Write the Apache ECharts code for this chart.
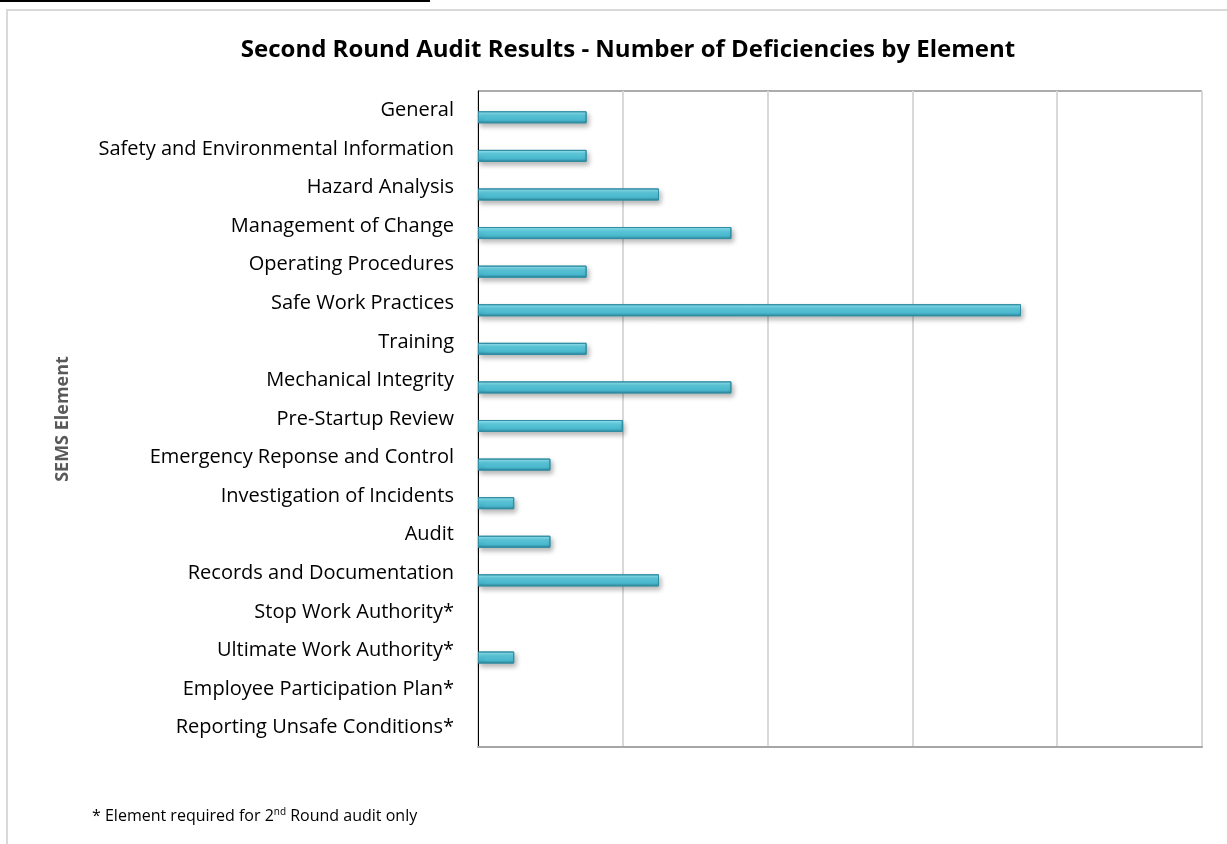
<!DOCTYPE html>
<html>
<head>
<meta charset="utf-8">
<script src="https://cdn.jsdelivr.net/npm/echarts@6/dist/echarts.min.js"></script>
<style>
  html, body { margin: 0; padding: 0; background: #fff; }
  #chart { width: 1227px; height: 844px; }
</style>
</head>
<body>
<div id="chart"></div>
<script>
const elements = [
  'General',
  'Safety and Environmental Information',
  'Hazard Analysis',
  'Management of Change',
  'Operating Procedures',
  'Safe Work Practices',
  'Training',
  'Mechanical Integrity',
  'Pre-Startup Review',
  'Emergency Reponse and Control',
  'Investigation of Incidents',
  'Audit',
  'Records and Documentation',
  'Stop Work Authority*',
  'Ultimate Work Authority*',
  'Employee Participation Plan*',
  'Reporting Unsafe Conditions*'
]
const deficiencies = [3, 3, 5, 7, 3, 15, 3, 7, 4, 2, 1, 2, 5, 0, 1, 0, 0]
const axisMin = 0
const axisMax = 20
const axisStep = 4

const chart = echarts.init(document.getElementById('chart'))

const barColor = new echarts.graphic.LinearGradient(0, 0, 0, 1, [
  { offset: 0, color: '#a3e9f4' },
  { offset: 0.3, color: '#62d0e3' },
  { offset: 0.75, color: '#48b8ce' },
  { offset: 1, color: '#2c7f94' }
])

const option = {
  backgroundColor: '#fff',
  textStyle: { fontFamily: 'Open Sans, Liberation Sans, sans-serif' },
  title: {
    text: 'Second Round Audit Results - Number of Deficiencies by Element',
    left: 623,
    textAlign: 'center',
    top: 33,
    textStyle: { fontSize: 24, fontWeight: 'bold', color: '#000', fontFamily: 'Open Sans' }
  },
  grid: { left: 478, right: 25, top: 91, bottom: 97, containLabel: false },
  xAxis: {
    type: 'value',
    min: axisMin,
    max: axisMax,
    interval: axisStep,
    axisLabel: { show: false },
    axisTick: { show: false },
    axisLine: { show: true, lineStyle: { color: '#a6a6a6', width: 2 } },
    splitLine: { show: true, lineStyle: { color: '#d9d9d9', width: 2 } }
  },
  yAxis: [{
    type: 'category',
    inverse: true,
    data: elements,
    axisTick: { show: false },
    axisLine: { show: true, lineStyle: { color: '#000', width: 1 } },
    axisLabel: { color: '#000', fontSize: 20, margin: 24, fontFamily: 'Open Sans' },
    name: 'SEMS Element',
    nameLocation: 'middle',
    nameRotate: 90,
    nameGap: 406,
    nameTextStyle: { color: '#595959', fontSize: 18, fontWeight: 'bold', fontFamily: 'Open Sans' }
  }],
  graphic: [
    { type: 'line', shape: { x1: 0, y1: 1, x2: 430, y2: 1 }, style: { stroke: '#000', lineWidth: 2 } },
    { type: 'rect', shape: { x: 7, y: 10, width: 1230, height: 850 }, style: { fill: 'none', stroke: '#d9d9d9', lineWidth: 2 } },
    { type: 'rect', shape: { x: 478, y: 91, width: 724, height: 656 }, style: { fill: 'none', stroke: '#595959', lineWidth: 1 }, z: -1 },
    {
      type: 'text', left: 92, top: 807,
      style: {
        text: '{a|* Element required for 2}{s|nd}{a| Round audit only}',
        rich: {
          a: { fontSize: 16, fill: '#000', fontFamily: 'Open Sans' },
          s: { fontSize: 10, fill: '#000', fontFamily: 'Open Sans', verticalAlign: 'top', padding: [0, 0, 9, 0] }
        }
      }
    }
  ],
  series: [
    {
      type: 'bar',
      data: deficiencies.map(() => null),
      barWidth: 14,
      barGap: 0,
      silent: true,
      itemStyle: { color: 'transparent' }
    },
    {
      type: 'bar',
      data: deficiencies.map(v => (v === 0 ? null : v)),
      barWidth: 12,
      barGap: 0,
      itemStyle: {
        color: barColor,
        borderColor: '#2f8ea3',
        borderWidth: 1,
        shadowColor: 'rgba(0,0,0,0.28)',
        shadowBlur: 5,
        shadowOffsetX: 2,
        shadowOffsetY: 3
      }
    }
  ]
}

chart.setOption(option)
</script>
</body>
</html>
